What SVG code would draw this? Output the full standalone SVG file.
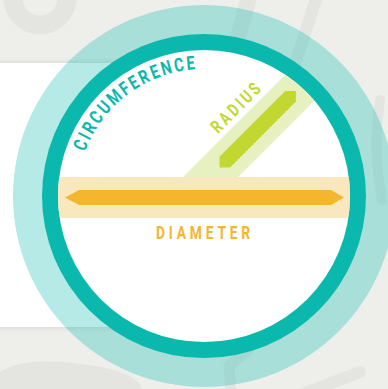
<svg xmlns="http://www.w3.org/2000/svg" width="388" height="389" viewBox="0 0 388 389">
<defs>
<style>
.lbl{font-family:Roboto,"Liberation Sans",sans-serif;font-weight:700;}
.decor{fill:none;stroke:#e4e5e0;stroke-linecap:round;stroke-linejoin:round;}
</style>
<clipPath id="inner"><circle cx="204" cy="196" r="146"/></clipPath>
<filter id="sh" x="-20%" y="-20%" width="140%" height="140%"><feGaussianBlur stdDeviation="3"/></filter>
<path id="arc" d="M 77 196 A 127 127 0 0 1 331 196"/>
</defs>
<rect width="388" height="389" fill="#eeefeb"/>
<g id="backdrop">
 <circle class="decor" cx="40" cy="-2" r="27" stroke-width="19"/>
 <path class="decor" d="M250 -6 L226 80" stroke-width="16"/>
 <path class="decor" d="M318 -6 C302 40 296 62 290 80" stroke-width="12"/>
 <path class="decor" d="M380 100 C374 140 376 170 382 200" stroke-width="10"/>
 <path class="decor" d="M231 395 L229 366 L248 350" stroke-width="11"/>
 <path class="decor" d="M300 395 L360 372" stroke-width="12"/>
 <path d="M0 372 C20 358 60 360 95 366 C120 370 140 378 142 389 L0 389 Z" fill="#e4e5e0"/>
</g>
<g id="panel">
 <rect x="-10" y="63" width="210" height="264" fill="#000" opacity="0.12" filter="url(#sh)"/>
 <rect x="0" y="63" width="200" height="264" fill="#ffffff"/>
</g>
<g id="circle">
 <circle cx="204" cy="196" r="191" fill="#0ab8b0" fill-opacity="0.3"/>
 <circle cx="204" cy="196" r="162" fill="#0ab8ae"/>
 <circle cx="204" cy="196" r="146" fill="#ffffff"/>
</g>
<g id="radius">
 <polygon clip-path="url(#inner)" points="165,195 335,25 390,25 220,195" fill="#e7f0c0"/>
</g>
<g id="diameter">
 <rect clip-path="url(#inner)" x="40" y="177" width="330" height="41" fill="#f9e7bd"/>
 <polygon points="65,197.5 79,190 331,190 344,197.5 331,205 79,205" fill="#f4b62e"/>
 <text class="lbl" x="156" y="239" font-size="18.5" letter-spacing="5" textLength="98" lengthAdjust="spacingAndGlyphs" fill="#f4b62e">DIAMETER</text>
</g>
<g id="radius-arrow">
 <polygon transform="translate(257.7 129.2) rotate(-45)" points="-54,0 -46.5,-7.5 46.5,-7.5 54,0 46.5,7.5 -46.5,7.5" fill="#c2d72f"/>
 <text class="lbl" transform="translate(240 112) rotate(-45)" x="-31" y="0" font-size="18" letter-spacing="4" textLength="65" lengthAdjust="spacingAndGlyphs" fill="#c2d72f">RADIUS</text>
</g>
<g id="circumference">
 <text class="lbl" font-size="19" letter-spacing="3" fill="#0ab8ae"><textPath href="#arc" startOffset="45" textLength="148" lengthAdjust="spacingAndGlyphs">CIRCUMFERENCE</textPath></text>
</g>
</svg>
